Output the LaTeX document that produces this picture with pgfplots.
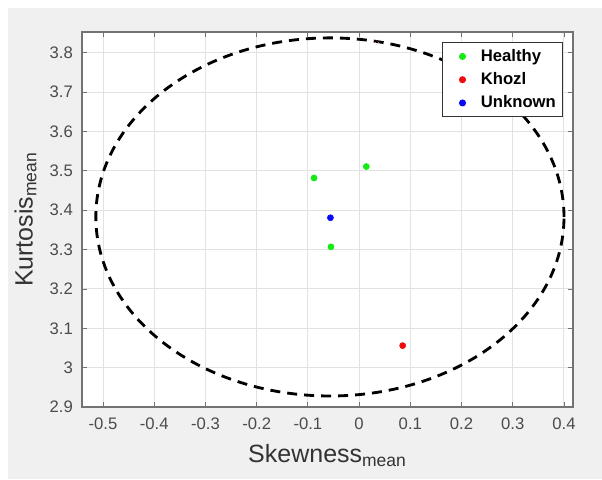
\documentclass[border=0pt]{standalone}
\usepackage{fontspec}
\setmainfont{Liberation Sans}
\usepackage{pgfplots}
\pgfplotsset{compat=1.18}
\definecolor{figbg}{RGB}{240,240,240}
\definecolor{axgray}{RGB}{115,115,115}
\definecolor{tickgray}{RGB}{75,75,75}
\definecolor{gridgray}{RGB}{226,226,226}
\definecolor{mgreen}{RGB}{20,235,20}
\definecolor{mred}{RGB}{240,10,10}
\definecolor{mblue}{RGB}{10,10,245}

\begin{document}
\begin{tikzpicture}
% figure background (1 px = 0.6 pt)
\fill[white] (0pt,0pt) rectangle (361.2pt,287.4pt);
\fill[figbg] (4.8pt,0pt) rectangle (361.2pt,282.6pt);
\begin{axis}[
  at={(49.2pt,43.2pt)}, anchor=south west, scale only axis,
  width=294.6pt, height=225pt,
  axis background/.style={fill=white},
  xmin=-0.541, xmax=0.4176, ymin=2.9, ymax=3.853,
  xtick={-0.5,-0.4,-0.3,-0.2,-0.1,0,0.1,0.2,0.3,0.4},
  ytick={2.9,3,3.1,3.2,3.3,3.4,3.5,3.6,3.7,3.8},
  xticklabels={-0.5,-0.4,-0.3,-0.2,-0.1,0,0.1,0.2,0.3,0.4},
  yticklabels={2.9,3,3.1,3.2,3.3,3.4,3.5,3.6,3.7,3.8},
  tick align=inside, tick pos=both,
  major tick length=3pt,
  every tick/.style={axgray, line width=0.5pt},
  axis line style={axgray, line width=0.9pt},
  grid=major, grid style={gridgray, line width=0.6pt},
  ticklabel style={font=\fontsize{10}{12}\selectfont, text=tickgray},
  xticklabel style={yshift=-3pt},
  yticklabel style={xshift=-2pt},
  xlabel={Skewness\textsubscript{mean}},
  ylabel={Kurtosis\textsubscript{mean}},
  label style={font=\fontsize{15}{18}\selectfont, text=black!80},
  xlabel style={yshift=-2pt},
  ylabel style={yshift=1pt},
  legend style={at={(0.9796,0.9733)}, anchor=north east,
    draw=black!80, line width=0.6pt, fill=white,
    font=\bfseries\fontsize{10}{13.8}\selectfont,
    row sep=1.2pt, inner xsep=2pt, inner ysep=2pt},
  legend cell align=left,
  legend image code/.code={%
    \path[draw=none] (0pt,0pt) -- (19pt,0pt);
    \draw[#1] plot coordinates {(10pt,0pt)};},
]
\addplot[only marks, mark=*, mark size=1.8pt, color=mgreen]
  coordinates {(-0.088,3.482) (0.014,3.511) (-0.055,3.307)};
\addlegendentry{Healthy}
\addplot[only marks, mark=*, mark size=1.8pt, color=mred]
  coordinates {(0.085,3.056)};
\addlegendentry{Khozl}
\addplot[only marks, mark=*, mark size=1.8pt, color=mblue]
  coordinates {(-0.056,3.381)};
\addlegendentry{Unknown}
\addplot[only marks, mark=o, mark size=1.1pt, color=red!45, densely dotted, line width=0.4pt, forget plot]
  coordinates {(0.035,3.826)};
\draw[black, line width=1.7pt, dash pattern=on 6pt off 4.2pt]
  (axis cs:-0.057,3.383) ellipse [x radius=0.457, y radius=0.455];
\end{axis}
\end{tikzpicture}
\end{document}
